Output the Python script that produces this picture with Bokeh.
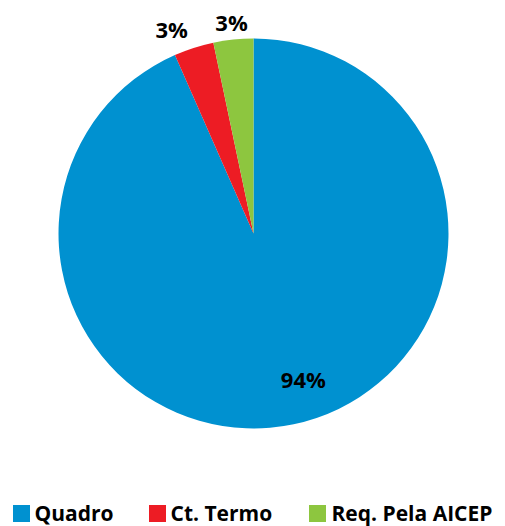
import math
from bokeh.plotting import figure
from bokeh.models import Range1d
from bokeh.core.properties import value
from bokeh.embed import file_html
from bokeh.resources import INLINE

# data
categories = ["Quadro", "Ct. Termo", "Req. Pela AICEP"]
shares = [93.4, 3.3, 3.3]
labels = ["94%", "3%", "3%"]
colors = ["#0091D0", "#ED1C24", "#8DC63F"]

W, H = 505, 526
p = figure(width=W, height=H, output_backend="svg", toolbar_location=None,
           x_range=Range1d(0, W), y_range=Range1d(0, H), min_border=0,
           outline_line_color=None, background_fill_color="white")
p.axis.visible = False
p.xgrid.visible = False
p.ygrid.visible = False

def sx(x):
    return x

def sy(y):
    return H - y

cx, cy, r = sx(253), sy(233), 195
total = sum(shares)
start = math.pi / 2
starts, ends, mids = [], [], []
for s in shares:
    a = 2 * math.pi * s / total
    end = start - a
    starts.append(start)
    ends.append(end)
    mids.append((start + end) / 2)
    start = end

p.wedge(x=[cx] * 3, y=[cy] * 3, radius=r, start_angle=ends, end_angle=starts,
        direction="anticlock", fill_color=colors, line_color=None)

# labels
rad_f = [0.79, 1.13, 1.09]
ang_off = [math.radians(7), math.radians(4), 0]
lx = [cx + r * f * math.cos(m + o) for m, f, o in zip(mids, rad_f, ang_off)]
ly = [cy + r * f * math.sin(m + o) for m, f, o in zip(mids, rad_f, ang_off)]
p.text(x=lx, y=ly, text=labels, text_font=value("Open Sans"), text_font_style="bold",
       text_font_size="22px", text_align="center", text_baseline="middle", text_color="#000000")

# legend
sq_x = [21, 157, 317]
txt_x = [34, 170, 331]
leg_y = 512
p.rect(x=[sx(v) for v in sq_x], y=[sy(513)] * 3, width=17, height=17, fill_color=colors, line_color=None)
p.text(x=[sx(v) for v in txt_x], y=[sy(leg_y)] * 3, text=categories, text_font=value("Open Sans"),
       text_font_style="bold", text_font_size="21px", text_align="left", text_baseline="middle",
       text_color="#000000")

open("out.html", "w").write(file_html(p, INLINE))
